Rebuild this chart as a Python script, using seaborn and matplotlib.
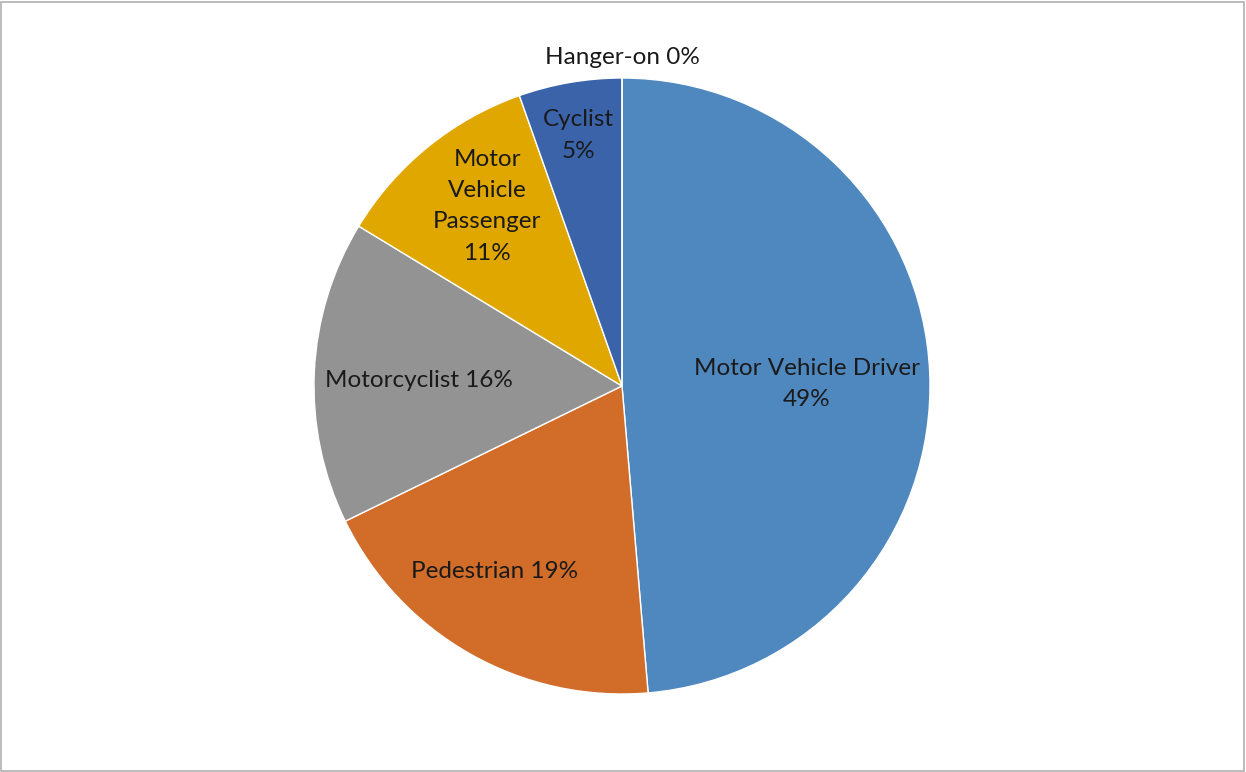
import numpy as np
import matplotlib
matplotlib.use("Agg")
import matplotlib.pyplot as plt
import seaborn as sns
from matplotlib.patches import Rectangle
from matplotlib.transforms import offset_copy

# Slice shares (clockwise from 12 o'clock)
categories = ["Motor Vehicle Driver", "Pedestrian", "Motorcyclist",
              "Motor Vehicle Passenger", "Cyclist", "Hanger-on"]
shares = [48.6, 19.1, 15.9, 10.9, 5.4, 0.0]
# Label texts as printed on the chart
label_texts = ["Motor Vehicle Driver\n49%", "Pedestrian 19%", "Motorcyclist 16%",
               "Motor\nVehicle\nPassenger\n11%", "Cyclist\n5%", "Hanger-on 0%"]

# styling
colors = ["#4F88BE", "#D16C29", "#939393", "#E0A700", "#3B63AA", "#7F7F7F"]
label_radius = [0.60, 0.715, 0.66, 0.745, 0.845, 1.085]
label_angle_shift = [0, -5.7, -0.5, -3.1, 0, 0]

sns.set_theme(style="white")
plt.rcParams['font.family'] = ['Lato', 'DejaVu Sans']

fig = plt.figure(figsize=(12.46, 7.72), dpi=100)
ax = fig.add_axes([0, 0, 1, 1])

wedges, _ = ax.pie(shares, colors=colors, startangle=90, counterclock=False,
                   wedgeprops=dict(edgecolor="white", linewidth=1.0))

# labels sit a little below the geometric centre, like the original
text_tr = offset_copy(ax.transData, fig=fig, x=0, y=-6, units="dots")
for w, txt, r, da in zip(wedges, label_texts, label_radius, label_angle_shift):
    mid = np.deg2rad((w.theta1 + w.theta2) / 2 + da)
    ax.text(r * np.cos(mid), r * np.sin(mid), txt, ha="center", va="center",
            fontsize=17.5, color="#1a1a1a", linespacing=1.6, transform=text_tr)

ax.set_aspect("equal")
ax.set_xlim(-622 / 308, (1246 - 622) / 308)
ax.set_ylim(-386 / 308, 386 / 308)
ax.axis("off")

# light frame around the chart area
fig.patches.append(Rectangle((0.001, 0.001), 0.997, 0.997, transform=fig.transFigure,
                             fill=False, edgecolor="#B0B0B0", linewidth=1.2))

fig.savefig("out.png", dpi=100)
